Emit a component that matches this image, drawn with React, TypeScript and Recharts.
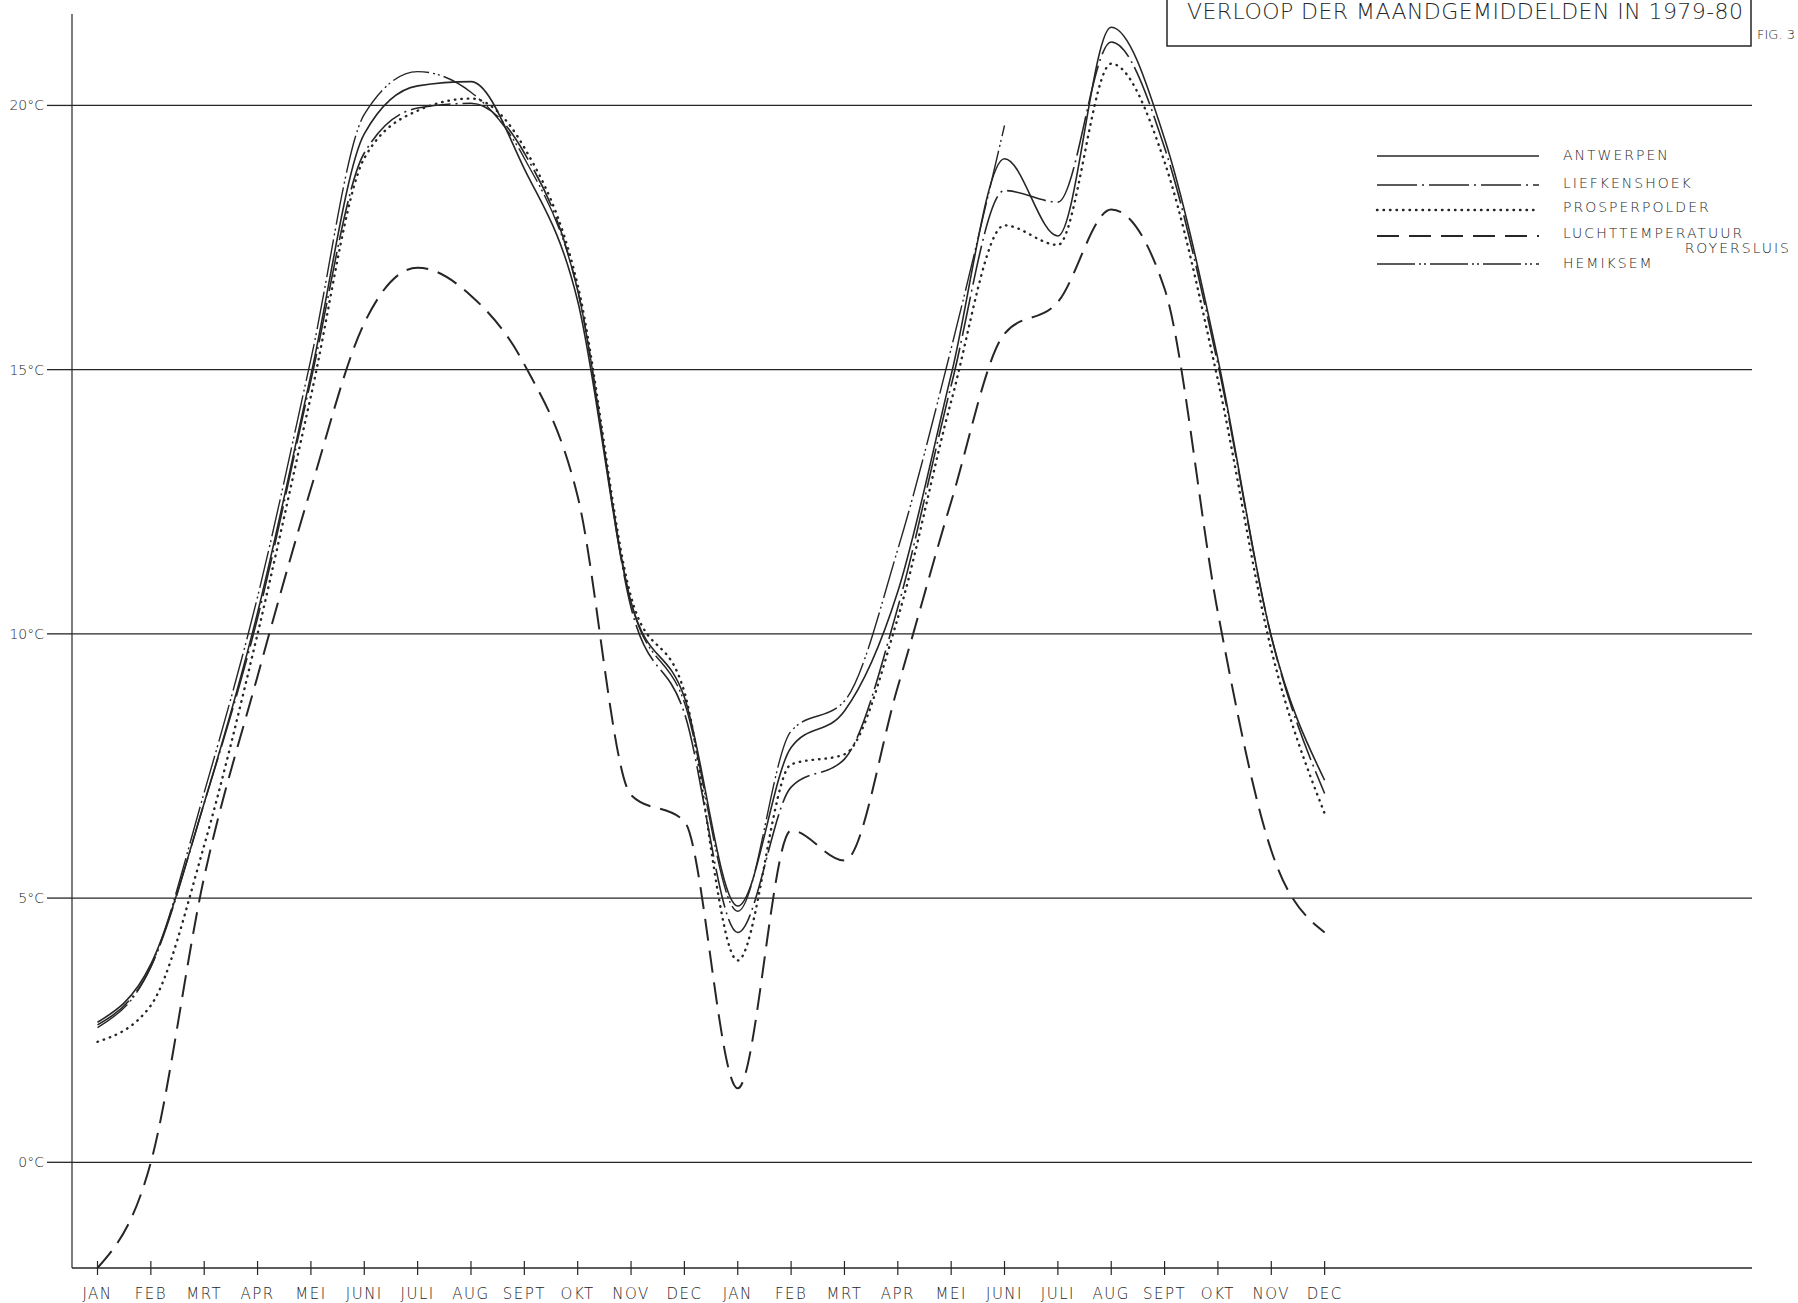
import React from "react";
import { LineChart, Line, XAxis, YAxis, ReferenceLine } from "recharts";

// JAN 1979 .. DEC 1980, one point per month
const months = [
  "JAN", "FEB", "MRT", "APR", "MEI", "JUNI", "JULI", "AUG", "SEPT", "OKT", "NOV", "DEC",
  "JAN", "FEB", "MRT", "APR", "MEI", "JUNI", "JULI", "AUG", "SEPT", "OKT", "NOV", "DEC",
];

const antwerpen = [
  2.65, 3.75, 6.8, 10.4, 14.9, 19.46, 20.37, 20.45, 18.8, 16.3, 10.6, 8.8,
  4.85, 7.85, 8.54, 10.8, 14.9, 18.99, 17.53, 21.48, 19.37, 15.2, 9.95, 7.23,
];
const liefkenshoek = [
  2.6, 3.7, 6.8, 10.3, 14.8, 19.1, 19.95, 20.04, 19.1, 16.5, 10.5, 8.5,
  4.35, 7.1, 7.63, 10.5, 14.7, 18.39, 18.17, 21.2, 19.2, 15.1, 9.95, 6.98,
];
const prosperpolder = [
  2.28, 2.97, 6.0, 10.0, 14.5, 19.0, 19.9, 20.13, 19.2, 16.6, 10.7, 8.9,
  3.82, 7.53, 7.72, 10.3, 14.4, 17.73, 17.36, 20.79, 18.93, 14.8, 9.7, 6.6,
];
const luchttemperatuur = [
  -2.0, 0.0, 5.4, 9.2, 12.75, 15.88, 16.93, 16.4, 15.1, 12.6, 6.95, 6.45,
  1.4, 6.28, 5.71, 9.0, 12.5, 15.68, 16.28, 18.03, 16.53, 10.4, 5.9, 4.35,
];
const hemiksem: (number | null)[] = [
  2.55, 3.7, 7.0, 10.7, 15.2, 19.83, 20.64, 20.25, 19.0, 16.5, 10.6, 8.7,
  4.75, 8.16, 8.73, 11.6, 15.4, 19.62, null, null, null, null, null, null,
];

const yTicks = [0, 5, 10, 15, 20];
const xTicks = months.map((_, i) => i);

const data = months.map((m, i) => ({
  i,
  month: m,
  antwerpen: antwerpen[i],
  liefkenshoek: liefkenshoek[i],
  prosperpolder: prosperpolder[i],
  lucht: luchttemperatuur[i],
  hemiksem: hemiksem[i],
}));

const INK = "#262626";
const FONT = "'DejaVu Sans', 'Noto Sans', sans-serif";

const series = [
  { key: "antwerpen", label: "ANTWERPEN", dash: undefined, width: 1.6, cap: "butt" },
  { key: "liefkenshoek", label: "LIEFKENSHOEK", dash: "40 5 2 5", width: 1.6, cap: "butt" },
  { key: "prosperpolder", label: "PROSPERPOLDER", dash: "0.5 6", width: 2.4, cap: "round" },
  { key: "lucht", label: "LUCHTTEMPERATUUR", dash: "22 10", width: 2, cap: "butt" },
  { key: "hemiksem", label: "HEMIKSEM", dash: "38 4 2 3 2 4", width: 1.4, cap: "butt" },
];

// legend rows: line y, label y
const legendLineY = [156, 185, 210, 236, 264];
const legendTextY = [155, 183, 207, 233, 263];

const MonthTick = (props: any) => {
  const { x, y, payload } = props;
  return (
    <g>
      <line x1={x} x2={x} y1={y - 7} y2={y + 7} stroke={INK} strokeWidth={1.2} />
      <text
        x={x}
        y={y + 31}
        textAnchor="middle"
        fontSize={15}
        fill={INK}
        fontFamily={FONT}
        fontWeight={300}
        letterSpacing={1.5}
      >
        {months[payload.value]}
      </text>
    </g>
  );
};

const App = () => {
  return (
    <div
      style={{
        position: "absolute",
        left: 0,
        top: 0,
        width: 1798,
        height: 1303,
        background: "#ffffff",
        overflow: "hidden",
      }}
    >
      <LineChart
        width={1798}
        height={1303}
        data={data}
        margin={{ top: 14, right: 46, bottom: 5, left: 12 }}
      >
        <XAxis
          dataKey="i"
          type="number"
          domain={[-0.478, 31.01]}
          ticks={xTicks}
          interval={0}
          allowDataOverflow
          height={30}
          tickSize={0}
          tickMargin={0}
          tickLine={false}
          axisLine={{ stroke: INK, strokeWidth: 1.6 }}
          tick={<MonthTick />}
        />
        <YAxis
          type="number"
          domain={[-2, 21.73]}
          ticks={yTicks}
          allowDataOverflow
          width={60}
          tickSize={25}
          tickMargin={3}
          tickLine={{ stroke: INK, strokeWidth: 1.3 }}
          axisLine={{ stroke: INK, strokeWidth: 1.2 }}
          tickFormatter={(v: number) => `${v}°C`}
          tick={{ fontSize: 14, fill: INK, fontFamily: FONT, fontWeight: 300 }}
        />
        {yTicks.map((v) => (
          <ReferenceLine key={v} y={v} stroke={INK} strokeWidth={1.3} />
        ))}
        {series.map((s) => (
          <Line
            key={s.key}
            type="monotone"
            dataKey={s.key}
            stroke={INK}
            strokeWidth={s.width}
            strokeDasharray={s.dash}
            strokeLinecap={s.cap as any}
            dot={false}
            activeDot={false}
            isAnimationActive={false}
          />
        ))}
      </LineChart>

      {/* title box, legend */}
      <svg
        width={1798}
        height={1303}
        style={{ position: "absolute", left: 0, top: 0, pointerEvents: "none" }}
      >
        <polyline
          points="1167,0 1167,46 1751,46 1751,0"
          fill="none"
          stroke={INK}
          strokeWidth={1.5}
        />
        <text
          x={1187}
          y={19}
          fontSize={22}
          fill={INK}
          fontFamily={FONT}
          fontWeight={300}
          textLength={556}
          lengthAdjust="spacing"
        >
          VERLOOP DER MAANDGEMIDDELDEN IN 1979-80
        </text>
        <text x={1757} y={39} fontSize={13} fill={INK} fontFamily={FONT} fontWeight={300}>
          FIG. 3
        </text>

        {series.map((s, k) => (
          <g key={s.key}>
            <line
              x1={1377}
              x2={1539}
              y1={legendLineY[k]}
              y2={legendLineY[k]}
              stroke={INK}
              strokeWidth={s.width}
              strokeDasharray={s.dash}
              strokeLinecap={s.cap as any}
            />
            <text
              x={1563}
              y={legendTextY[k]}
              dy="0.35em"
              fontSize={14}
              fill={INK}
              fontFamily={FONT}
              fontWeight={300}
              letterSpacing={2}
            >
              {s.label}
            </text>
          </g>
        ))}
        <text
          x={1791}
          y={248}
          dy="0.35em"
          textAnchor="end"
          fontSize={14}
          fill={INK}
          fontFamily={FONT}
          fontWeight={300}
          letterSpacing={2}
        >
          ROYERSLUIS
        </text>
      </svg>
    </div>
  );
};

export default App;
